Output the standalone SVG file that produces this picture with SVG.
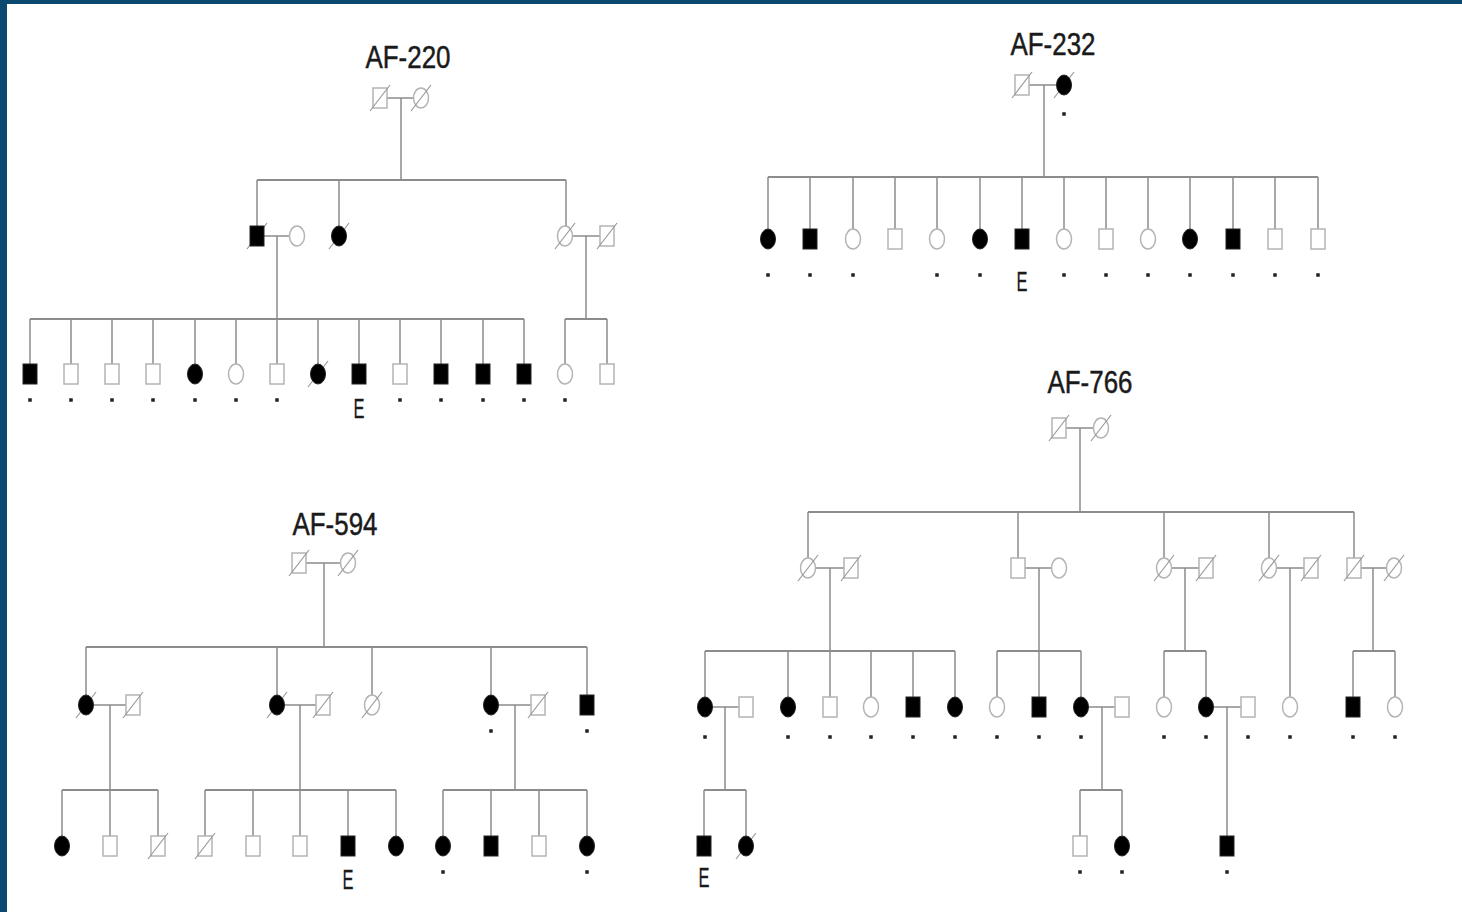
<svg xmlns="http://www.w3.org/2000/svg" width="1462" height="912" viewBox="0 0 1462 912">
<style>
.ln{stroke:#8c8c8c;stroke-width:1.5;fill:none}
.sib{stroke:#8c8c8c;stroke-width:2;fill:none}
.o{fill:#fff;stroke:#b4b4b4;stroke-width:1.5}
.f{fill:#000;stroke:#222;stroke-width:1}
.sl{stroke:#999;stroke-width:1.2}
.d{fill:#222}
.t{font-family:"Liberation Sans",Arial,sans-serif;font-size:32px;fill:#1a1a1a;stroke:#1a1a1a;stroke-width:0.5}
.e{font-family:"Liberation Sans",Arial,sans-serif;font-size:27px;fill:#1a1a1a;stroke:#1a1a1a;stroke-width:0.3}
</style>
<defs>
<rect id="sq" x="-7" y="-10" width="14" height="20"/>
<ellipse id="ci" cx="0" cy="0" rx="7.5" ry="10"/>
<line id="slash" x1="-10" y1="13" x2="10" y2="-13"/>
<rect id="dot" x="-1.75" y="-1.75" width="3.5" height="3.5"/>
</defs>
<rect x="0" y="0" width="1462" height="912" fill="#fff"/>
<rect x="0" y="0" width="1462" height="4" fill="#0b4870"/>
<rect x="0" y="0" width="7" height="912" fill="#0b4870"/>

<!-- ================= CONNECTORS ================= -->
<g id="connectors">
<!-- AF-220 -->
<path class="ln" d="M387 98H413M401 98V180"/>
<path class="sib" d="M257 180H566"/>
<path class="ln" d="M257 180V226M339 180V226M566 180V226"/>
<path class="ln" d="M264 236H289M277 236V319M573 236H600M586 236V319"/>
<path class="sib" d="M30 319H524M565 319H607"/>
<path class="ln" d="M30 319V364M71 319V364M112 319V364M153 319V364M195 319V364M236 319V364M277 319V364M318 319V364M359 319V364M400 319V364M441 319V364M483 319V364M524 319V364M565 319V364M607 319V364"/>
<!-- AF-232 -->
<path class="ln" d="M1029 85H1056M1044 85V177"/>
<path class="sib" d="M768 177H1318"/>
<path class="ln" d="M768 177V229M810 177V229M853 177V229M895 177V229M937 177V229M980 177V229M1022 177V229M1064 177V229M1106 177V229M1148 177V229M1190 177V229M1233 177V229M1275 177V229M1318 177V229"/>
<!-- AF-594 -->
<path class="ln" d="M306 563H340M324 563V647"/>
<path class="sib" d="M86 647H587"/>
<path class="ln" d="M86 647V695M277 647V695M372 647V695M491 647V695M587 647V695"/>
<path class="ln" d="M94 705H126M110 705V790M285 705H316M300 705V790M499 705H531M515 705V790"/>
<path class="sib" d="M62 790H158M205 790H396M443 790H587"/>
<path class="ln" d="M62 790V836M110 790V836M158 790V836M205 790V836M253 790V836M300 790V836M348 790V836M396 790V836M443 790V836M491 790V836M539 790V836M587 790V836"/>
<!-- AF-766 -->
<path class="ln" d="M1066 428H1093M1080 428V512"/>
<path class="sib" d="M808 512H1354"/>
<path class="ln" d="M808 512V558M1018 512V558M1164 512V558M1269 512V558M1354 512V558"/>
<path class="ln" d="M816 568H844M830 568V651M1025 568H1051M1039 568V651M1172 568H1199M1185 568V651M1277 568H1304M1290 568V697M1361 568H1386M1373 568V651"/>
<path class="sib" d="M705 651H955M997 651H1081M1164 651H1206M1353 651H1395"/>
<path class="ln" d="M705 651V697M788 651V697M830 651V697M871 651V697M913 651V697M955 651V697M997 651V697M1039 651V697M1081 651V697M1164 651V697M1206 651V697M1353 651V697M1395 651V697"/>
<path class="ln" d="M713 707H739M725 707V790M1089 707H1115M1102 707V790M1214 707H1241M1227 707V836"/>
<path class="sib" d="M704 790H746M1080 790H1122"/>
<path class="ln" d="M704 790V836M746 790V836M1080 790V836M1122 790V836"/>
</g>

<!-- ================= AF-220 ================= -->
<g id="af220">
<text class="t" x="408" y="68" text-anchor="middle" textLength="85" lengthAdjust="spacingAndGlyphs">AF-220</text>
<g id="a220-g1m" transform="translate(380,98)"><use href="#sq" class="o"/><use href="#slash" class="sl"/></g>
<g id="a220-g1f" transform="translate(421,98)"><use href="#ci" class="o"/><use href="#slash" class="sl"/></g>
<g id="a220-g2-1" transform="translate(257,236)"><use href="#slash" class="sl"/><use href="#sq" class="f"/></g>
<g id="a220-g2-1p" transform="translate(297,236)"><use href="#ci" class="o"/></g>
<g id="a220-g2-2" transform="translate(339,236)"><use href="#slash" class="sl"/><use href="#ci" class="f"/></g>
<g id="a220-g2-3" transform="translate(565,236)"><use href="#ci" class="o"/><use href="#slash" class="sl"/></g>
<g id="a220-g2-3p" transform="translate(607,236)"><use href="#sq" class="o"/><use href="#slash" class="sl"/></g>
<g id="a220-g3-1" transform="translate(30,374)"><use href="#sq" class="f"/><use href="#dot" class="d" y="26"/></g>
<g id="a220-g3-2" transform="translate(71,374)"><use href="#sq" class="o"/><use href="#dot" class="d" y="26"/></g>
<g id="a220-g3-3" transform="translate(112,374)"><use href="#sq" class="o"/><use href="#dot" class="d" y="26"/></g>
<g id="a220-g3-4" transform="translate(153,374)"><use href="#sq" class="o"/><use href="#dot" class="d" y="26"/></g>
<g id="a220-g3-5" transform="translate(195,374)"><use href="#ci" class="f"/><use href="#dot" class="d" y="26"/></g>
<g id="a220-g3-6" transform="translate(236,374)"><use href="#ci" class="o"/><use href="#dot" class="d" y="26"/></g>
<g id="a220-g3-7" transform="translate(277,374)"><use href="#sq" class="o"/><use href="#dot" class="d" y="26"/></g>
<g id="a220-g3-8" transform="translate(318,374)"><use href="#slash" class="sl"/><use href="#ci" class="f"/></g>
<g id="a220-g3-9" transform="translate(359,374)"><use href="#sq" class="f"/><text class="e" x="0" y="44" text-anchor="middle" textLength="11" lengthAdjust="spacingAndGlyphs">E</text></g>
<g id="a220-g3-10" transform="translate(400,374)"><use href="#sq" class="o"/><use href="#dot" class="d" y="26"/></g>
<g id="a220-g3-11" transform="translate(441,374)"><use href="#sq" class="f"/><use href="#dot" class="d" y="26"/></g>
<g id="a220-g3-12" transform="translate(483,374)"><use href="#sq" class="f"/><use href="#dot" class="d" y="26"/></g>
<g id="a220-g3-13" transform="translate(524,374)"><use href="#sq" class="f"/><use href="#dot" class="d" y="26"/></g>
<g id="a220-g3-14" transform="translate(565,374)"><use href="#ci" class="o"/><use href="#dot" class="d" y="26"/></g>
<g id="a220-g3-15" transform="translate(607,374)"><use href="#sq" class="o"/></g>
</g>

<!-- ================= AF-232 ================= -->
<g id="af232">
<text class="t" x="1053" y="55" text-anchor="middle" textLength="85" lengthAdjust="spacingAndGlyphs">AF-232</text>
<g id="a232-g1m" transform="translate(1022,85)"><use href="#sq" class="o"/><use href="#slash" class="sl"/></g>
<g id="a232-g1f" transform="translate(1064,85)"><use href="#slash" class="sl"/><use href="#ci" class="f"/><use href="#dot" class="d" y="29"/></g>
<g id="a232-c1" transform="translate(768,239)"><use href="#ci" class="f"/><use href="#dot" class="d" y="36"/></g>
<g id="a232-c2" transform="translate(810,239)"><use href="#sq" class="f"/><use href="#dot" class="d" y="36"/></g>
<g id="a232-c3" transform="translate(853,239)"><use href="#ci" class="o"/><use href="#dot" class="d" y="36"/></g>
<g id="a232-c4" transform="translate(895,239)"><use href="#sq" class="o"/></g>
<g id="a232-c5" transform="translate(937,239)"><use href="#ci" class="o"/><use href="#dot" class="d" y="36"/></g>
<g id="a232-c6" transform="translate(980,239)"><use href="#ci" class="f"/><use href="#dot" class="d" y="36"/></g>
<g id="a232-c7" transform="translate(1022,239)"><use href="#sq" class="f"/><text class="e" x="0" y="52" text-anchor="middle" textLength="11" lengthAdjust="spacingAndGlyphs">E</text></g>
<g id="a232-c8" transform="translate(1064,239)"><use href="#ci" class="o"/><use href="#dot" class="d" y="36"/></g>
<g id="a232-c9" transform="translate(1106,239)"><use href="#sq" class="o"/><use href="#dot" class="d" y="36"/></g>
<g id="a232-c10" transform="translate(1148,239)"><use href="#ci" class="o"/><use href="#dot" class="d" y="36"/></g>
<g id="a232-c11" transform="translate(1190,239)"><use href="#ci" class="f"/><use href="#dot" class="d" y="36"/></g>
<g id="a232-c12" transform="translate(1233,239)"><use href="#sq" class="f"/><use href="#dot" class="d" y="36"/></g>
<g id="a232-c13" transform="translate(1275,239)"><use href="#sq" class="o"/><use href="#dot" class="d" y="36"/></g>
<g id="a232-c14" transform="translate(1318,239)"><use href="#sq" class="o"/><use href="#dot" class="d" y="36"/></g>
</g>

<!-- ================= AF-594 ================= -->
<g id="af594">
<text class="t" x="335" y="535" text-anchor="middle" textLength="85" lengthAdjust="spacingAndGlyphs">AF-594</text>
<g id="a594-g1m" transform="translate(299,563)"><use href="#sq" class="o"/><use href="#slash" class="sl"/></g>
<g id="a594-g1f" transform="translate(348,563)"><use href="#ci" class="o"/><use href="#slash" class="sl"/></g>
<g id="a594-g2-1" transform="translate(86,705)"><use href="#slash" class="sl"/><use href="#ci" class="f"/></g>
<g id="a594-g2-1p" transform="translate(133,705)"><use href="#sq" class="o"/><use href="#slash" class="sl"/></g>
<g id="a594-g2-2" transform="translate(277,705)"><use href="#slash" class="sl"/><use href="#ci" class="f"/></g>
<g id="a594-g2-2p" transform="translate(323,705)"><use href="#sq" class="o"/><use href="#slash" class="sl"/></g>
<g id="a594-g2-3" transform="translate(372,705)"><use href="#ci" class="o"/><use href="#slash" class="sl"/></g>
<g id="a594-g2-4" transform="translate(491,705)"><use href="#ci" class="f"/><use href="#dot" class="d" y="26"/></g>
<g id="a594-g2-4p" transform="translate(538,705)"><use href="#sq" class="o"/><use href="#slash" class="sl"/></g>
<g id="a594-g2-5" transform="translate(587,705)"><use href="#sq" class="f"/><use href="#dot" class="d" y="26"/></g>
<g id="a594-g3-1" transform="translate(62,846)"><use href="#ci" class="f"/></g>
<g id="a594-g3-2" transform="translate(110,846)"><use href="#sq" class="o"/></g>
<g id="a594-g3-3" transform="translate(158,846)"><use href="#sq" class="o"/><use href="#slash" class="sl"/></g>
<g id="a594-g3-4" transform="translate(205,846)"><use href="#sq" class="o"/><use href="#slash" class="sl"/></g>
<g id="a594-g3-5" transform="translate(253,846)"><use href="#sq" class="o"/></g>
<g id="a594-g3-6" transform="translate(300,846)"><use href="#sq" class="o"/></g>
<g id="a594-g3-7" transform="translate(348,846)"><use href="#sq" class="f"/><text class="e" x="0" y="43" text-anchor="middle" textLength="11" lengthAdjust="spacingAndGlyphs">E</text></g>
<g id="a594-g3-8" transform="translate(396,846)"><use href="#ci" class="f"/></g>
<g id="a594-g3-9" transform="translate(443,846)"><use href="#ci" class="f"/><use href="#dot" class="d" y="26"/></g>
<g id="a594-g3-10" transform="translate(491,846)"><use href="#sq" class="f"/></g>
<g id="a594-g3-11" transform="translate(539,846)"><use href="#sq" class="o"/></g>
<g id="a594-g3-12" transform="translate(587,846)"><use href="#ci" class="f"/><use href="#dot" class="d" y="26"/></g>
</g>

<!-- ================= AF-766 ================= -->
<g id="af766">
<text class="t" x="1090" y="393" text-anchor="middle" textLength="85" lengthAdjust="spacingAndGlyphs">AF-766</text>
<g id="a766-g1m" transform="translate(1059,428)"><use href="#sq" class="o"/><use href="#slash" class="sl"/></g>
<g id="a766-g1f" transform="translate(1101,428)"><use href="#ci" class="o"/><use href="#slash" class="sl"/></g>
<g id="a766-g2-1" transform="translate(808,568)"><use href="#ci" class="o"/><use href="#slash" class="sl"/></g>
<g id="a766-g2-1p" transform="translate(851,568)"><use href="#sq" class="o"/><use href="#slash" class="sl"/></g>
<g id="a766-g2-2" transform="translate(1018,568)"><use href="#sq" class="o"/></g>
<g id="a766-g2-2p" transform="translate(1059,568)"><use href="#ci" class="o"/></g>
<g id="a766-g2-3" transform="translate(1164,568)"><use href="#ci" class="o"/><use href="#slash" class="sl"/></g>
<g id="a766-g2-3p" transform="translate(1206,568)"><use href="#sq" class="o"/><use href="#slash" class="sl"/></g>
<g id="a766-g2-4" transform="translate(1269,568)"><use href="#ci" class="o"/><use href="#slash" class="sl"/></g>
<g id="a766-g2-4p" transform="translate(1311,568)"><use href="#sq" class="o"/><use href="#slash" class="sl"/></g>
<g id="a766-g2-5" transform="translate(1354,568)"><use href="#sq" class="o"/><use href="#slash" class="sl"/></g>
<g id="a766-g2-5p" transform="translate(1394,568)"><use href="#ci" class="o"/><use href="#slash" class="sl"/></g>
<g id="a766-g3-1" transform="translate(705,707)"><use href="#ci" class="f"/><use href="#dot" class="d" y="30"/></g>
<g id="a766-g3-1p" transform="translate(746,707)"><use href="#sq" class="o"/></g>
<g id="a766-g3-2" transform="translate(788,707)"><use href="#ci" class="f"/><use href="#dot" class="d" y="30"/></g>
<g id="a766-g3-3" transform="translate(830,707)"><use href="#sq" class="o"/><use href="#dot" class="d" y="30"/></g>
<g id="a766-g3-4" transform="translate(871,707)"><use href="#ci" class="o"/><use href="#dot" class="d" y="30"/></g>
<g id="a766-g3-5" transform="translate(913,707)"><use href="#sq" class="f"/><use href="#dot" class="d" y="30"/></g>
<g id="a766-g3-6" transform="translate(955,707)"><use href="#ci" class="f"/><use href="#dot" class="d" y="30"/></g>
<g id="a766-g3-7" transform="translate(997,707)"><use href="#ci" class="o"/><use href="#dot" class="d" y="30"/></g>
<g id="a766-g3-8" transform="translate(1039,707)"><use href="#sq" class="f"/><use href="#dot" class="d" y="30"/></g>
<g id="a766-g3-9" transform="translate(1081,707)"><use href="#ci" class="f"/><use href="#dot" class="d" y="30"/></g>
<g id="a766-g3-9p" transform="translate(1122,707)"><use href="#sq" class="o"/></g>
<g id="a766-g3-10" transform="translate(1164,707)"><use href="#ci" class="o"/><use href="#dot" class="d" y="30"/></g>
<g id="a766-g3-11" transform="translate(1206,707)"><use href="#ci" class="f"/><use href="#dot" class="d" y="30"/></g>
<g id="a766-g3-11p" transform="translate(1248,707)"><use href="#sq" class="o"/><use href="#dot" class="d" y="30"/></g>
<g id="a766-g3-12" transform="translate(1290,707)"><use href="#ci" class="o"/><use href="#dot" class="d" y="30"/></g>
<g id="a766-g3-13" transform="translate(1353,707)"><use href="#sq" class="f"/><use href="#dot" class="d" y="30"/></g>
<g id="a766-g3-14" transform="translate(1395,707)"><use href="#ci" class="o"/><use href="#dot" class="d" y="30"/></g>
<g id="a766-g4-1" transform="translate(704,846)"><use href="#sq" class="f"/><text class="e" x="0" y="41" text-anchor="middle" textLength="11" lengthAdjust="spacingAndGlyphs">E</text></g>
<g id="a766-g4-2" transform="translate(746,846)"><use href="#slash" class="sl"/><use href="#ci" class="f"/></g>
<g id="a766-g4-3" transform="translate(1080,846)"><use href="#sq" class="o"/><use href="#dot" class="d" y="26"/></g>
<g id="a766-g4-4" transform="translate(1122,846)"><use href="#ci" class="f"/><use href="#dot" class="d" y="26"/></g>
<g id="a766-g4-5" transform="translate(1227,846)"><use href="#sq" class="f"/><use href="#dot" class="d" y="26"/></g>
</g>
</svg>
